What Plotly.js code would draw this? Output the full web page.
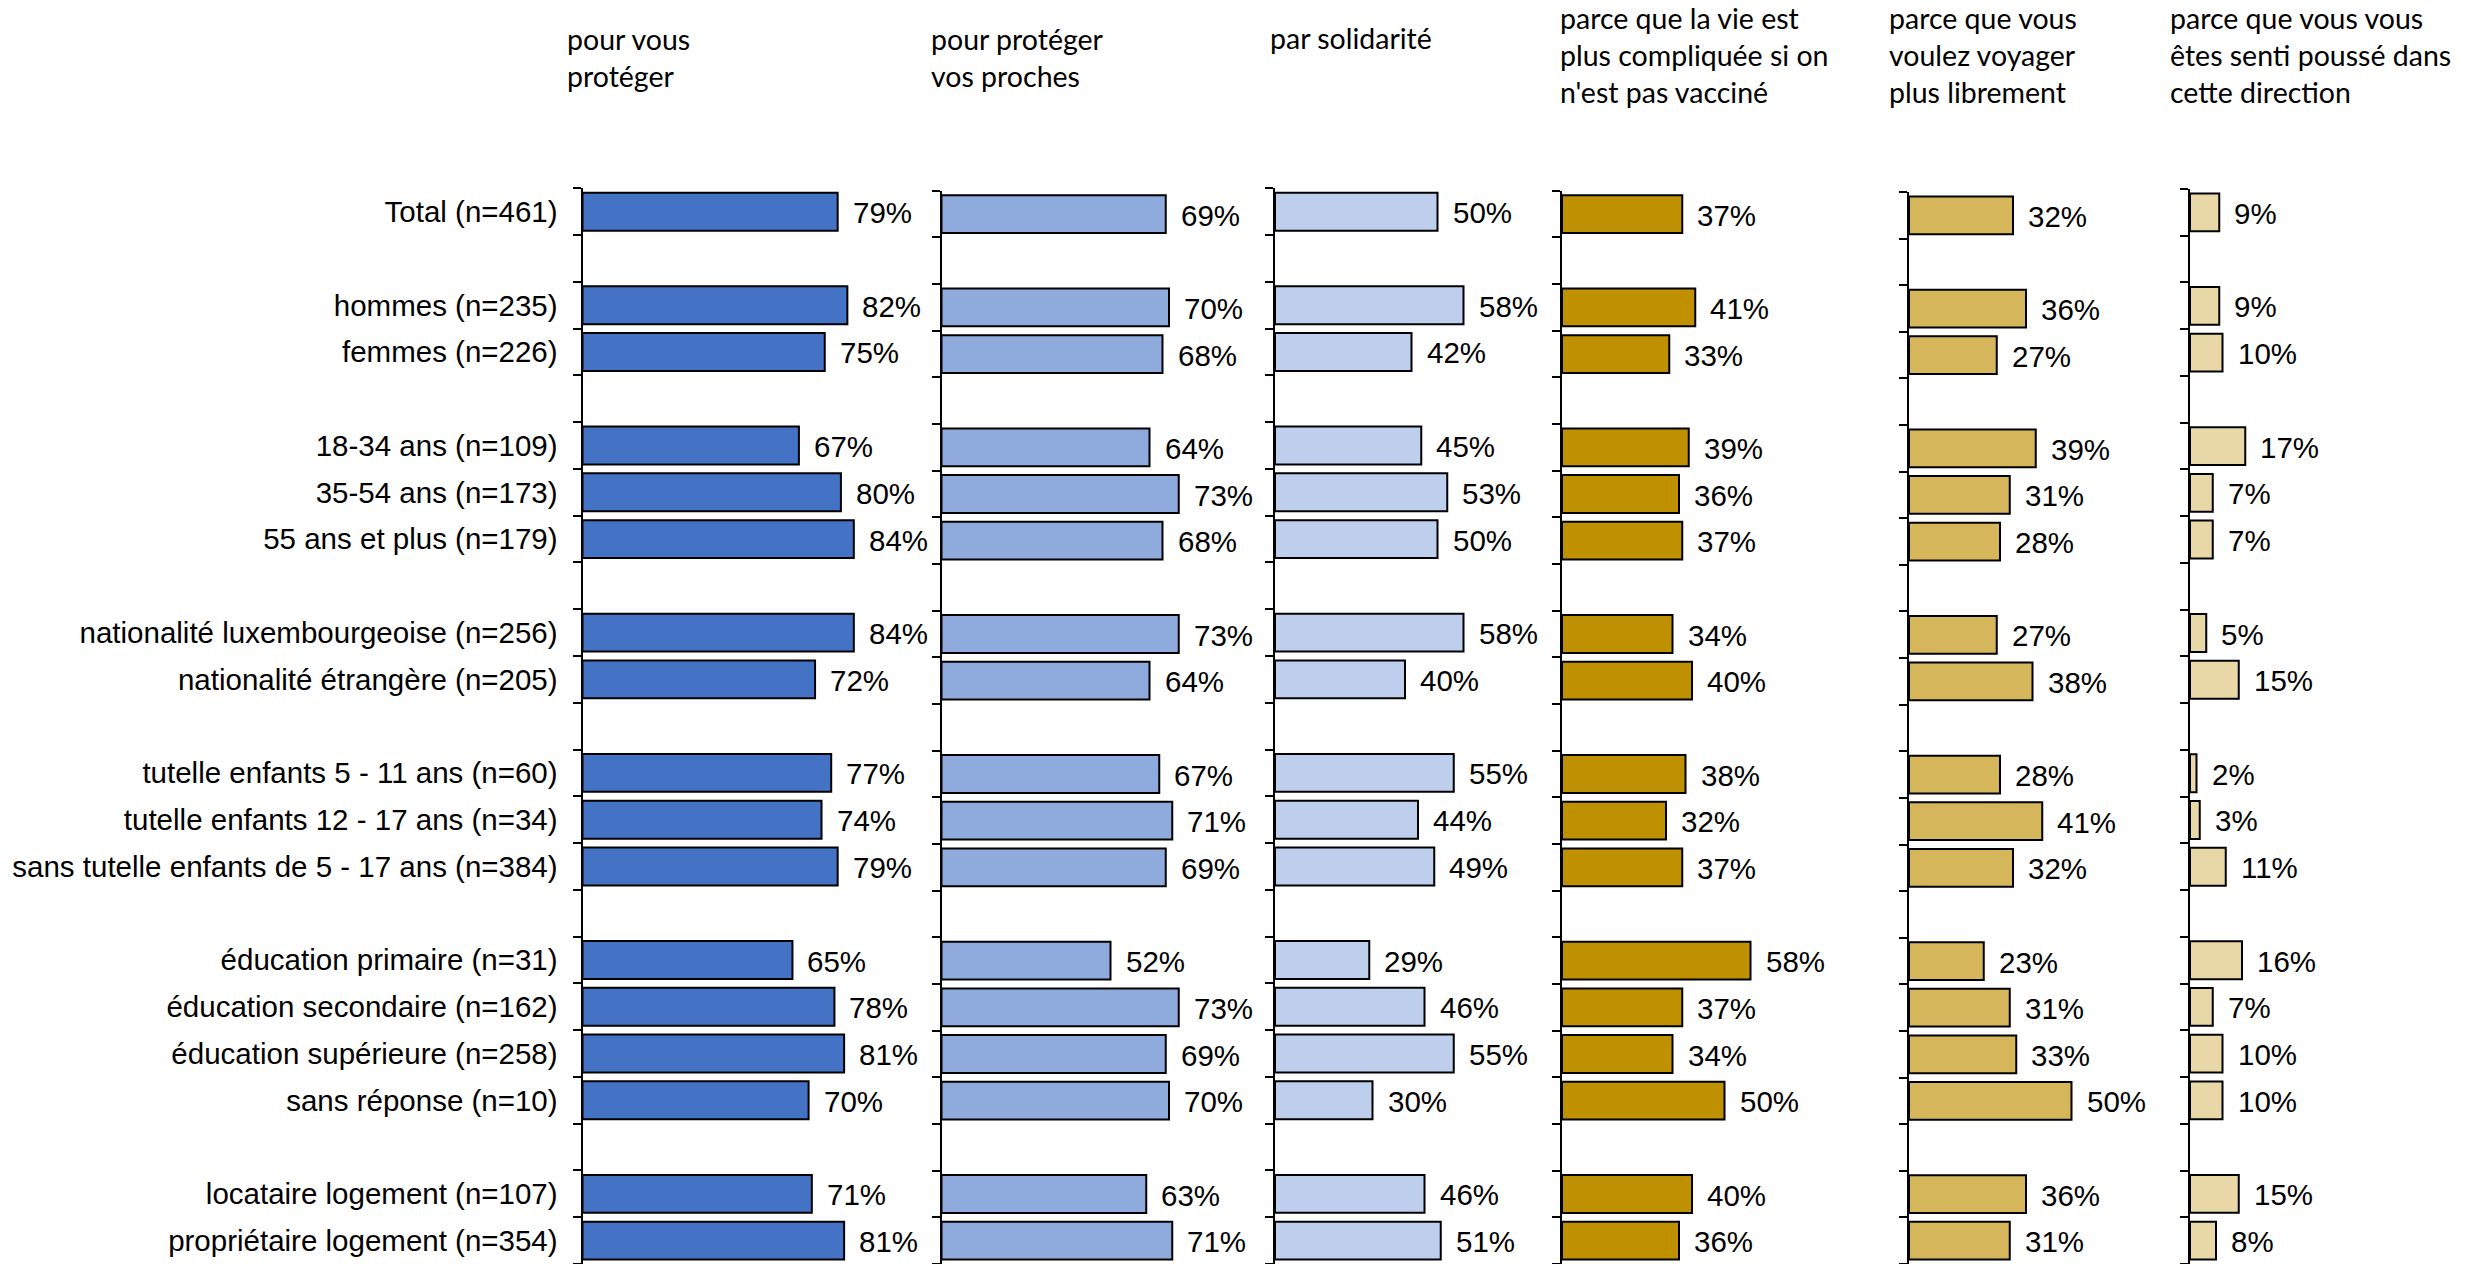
<!DOCTYPE html>
<html>
<head>
<meta charset="utf-8">
<script src="https://cdn.plot.ly/plotly-3.0.1.min.js"></script>
<style>html,body{margin:0;padding:0;background:#fff;}#chart{width:2486px;height:1264px;}</style>
</head>
<body>
<div id="chart"></div>
<script>
// ---- DATA ----
const groups = [
  ["Total (n=461)"],
  ["hommes (n=235)", "femmes (n=226)"],
  ["18-34 ans (n=109)", "35-54 ans (n=173)", "55 ans et plus (n=179)"],
  ["nationalité luxembourgeoise (n=256)", "nationalité étrangère (n=205)"],
  ["tutelle enfants 5 - 11 ans (n=60)", "tutelle enfants 12 - 17 ans (n=34)", "sans tutelle enfants de 5 - 17 ans (n=384)"],
  ["éducation primaire (n=31)", "éducation secondaire (n=162)", "éducation supérieure (n=258)", "sans réponse (n=10)"],
  ["locataire logement (n=107)", "propriétaire logement (n=354)"]
];
const panelTitles = [
  "pour vous<br>protéger",
  "pour protéger<br>vos proches",
  "par solidarité",
  "parce que la vie est<br>plus compliquée si on<br>n'est pas vacciné",
  "parce que vous<br>voulez voyager<br>plus librement",
  "parce que vous vous<br>êtes senti poussé dans<br>cette direction"
];
const vousProteger    = [79, 82, 75, 67, 80, 84, 84, 72, 77, 74, 79, 65, 78, 81, 70, 71, 81];
const protegerProches = [69, 70, 68, 64, 73, 68, 73, 64, 67, 71, 69, 52, 73, 69, 70, 63, 71];
const solidarite      = [50, 58, 42, 45, 53, 50, 58, 40, 55, 44, 49, 29, 46, 55, 30, 46, 51];
const vieCompliquee   = [37, 41, 33, 39, 36, 37, 34, 40, 38, 32, 37, 58, 37, 34, 50, 40, 36];
const voyager         = [32, 36, 27, 39, 31, 28, 27, 38, 28, 41, 32, 23, 31, 33, 50, 36, 31];
const pousse          = [9, 9, 10, 17, 7, 7, 5, 15, 2, 3, 11, 16, 7, 10, 10, 15, 8];
const series = [vousProteger, protegerProches, solidarite, vieCompliquee, voyager, pousse];

// ---- STYLE / LAYOUT ----
const W = 2486, H = 1264;
const colors = ["#4472C4", "#8FAADC", "#BDCFEC", "#BF9000", "#D5B65A", "#E9D8A7"];
const axisX  = [582.5, 941.5, 1275, 1562, 1909, 2190];   // px of each panel's axis line
const pxPer  = [3.23, 3.25, 3.25, 3.25, 3.25, 3.25];     // px per percent
const topPx  = [188.3, 190.7, 188.3, 190.7, 192, 189];   // px of each panel's top
const titleX = [564.5, 928.5, 1268, 1557.5, 1887, 2168];
const titleY = [57, 57, 38, 55, 55, 55];
const RMAX = 88;
const ARIAL = "Liberation Sans, Arial, sans-serif";
const FS = 29.5;

// slot positions (one empty slot between groups)
const categories = [], ypos = [];
let slot = 0;
groups.forEach((g, gi) => {
  if (gi > 0) slot += 1;
  g.forEach(c => { categories.push(c); ypos.push(slot); slot += 1; });
});
const nSlots = slot;
const boundaries = [];
for (let i = 0; i <= nSlots; i++) boundaries.push(i - 0.5);

const traces = [];
const annotations = [];
const layout = {
  width: W, height: H,
  margin: {l: 0, r: 0, t: 0, b: 0},
  paper_bgcolor: "#ffffff",
  plot_bgcolor: "rgba(0,0,0,0)",
  showlegend: false,
  font: {family: ARIAL, size: FS, color: "#000"},
  annotations: annotations
};

series.forEach((vals, k) => {
  const sfx = k === 0 ? "" : String(k + 1);
  traces.push({
    type: "bar", orientation: "h",
    x: vals, y: ypos,
    xaxis: "x" + sfx, yaxis: "y" + sfx,
    width: 0.81,
    marker: {color: colors[k], line: {color: "#000", width: 2}},
    hoverinfo: "skip"
  });
  layout["xaxis" + sfx] = {
    domain: [axisX[k] / W, (axisX[k] + RMAX * pxPer[k]) / W],
    range: [0, RMAX], visible: false, fixedrange: true, anchor: "y" + sfx
  };
  layout["yaxis" + sfx] = {
    domain: [0, 1 - topPx[k] / H],
    range: [nSlots - 0.5, -0.5],
    anchor: "x" + sfx,
    showline: true, linecolor: "#000", linewidth: 2,
    showgrid: false, zeroline: false,
    ticks: "",
    tickmode: "array", tickvals: ypos, ticktext: categories,
    showticklabels: k === 0,
    ticklabelstandoff: 17,
    tickfont: {family: ARIAL, size: FS, color: "#000"},
    minor: {tickmode: "array", tickvals: boundaries, ticks: "outside", ticklen: 8, tickwidth: 2, tickcolor: "#000", showgrid: false},
    fixedrange: true
  };
  vals.forEach((v, i) => {
    annotations.push({
      x: v, y: ypos[i], xref: "x" + sfx, yref: "y" + sfx,
      text: v + "%", showarrow: false, xanchor: "left", yanchor: "middle",
      xshift: 13, yshift: -1,
      font: {family: ARIAL, size: FS, color: "#000"}
    });
  });
  annotations.push({
    x: titleX[k] / W, y: 1 - titleY[k] / H, xref: "paper", yref: "paper",
    text: panelTitles[k], showarrow: false, xanchor: "left", yanchor: "middle", align: "left",
    font: {family: "Lato, 'Open Sans', sans-serif", size: 28.5, color: "#000"}
  });
});

Plotly.newPlot("chart", traces, layout, {displayModeBar: false, staticPlot: true});
</script>
</body>
</html>
